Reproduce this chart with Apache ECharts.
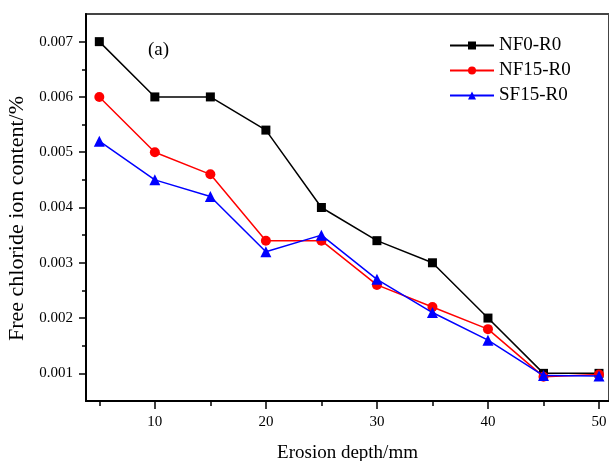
<!DOCTYPE html>
<html>
<head>
<meta charset="utf-8">
<script src="https://cdn.jsdelivr.net/npm/echarts@6/dist/echarts.min.js"></script>
<style>html,body{margin:0;padding:0;background:#fff;}#c{width:609px;height:461px;}</style>
</head>
<body>
<div id="c"></div>
<script>
var depths = [5, 10, 15, 20, 25, 30, 35, 40, 45, 50];
var nf0 = [0.007, 0.006, 0.006, 0.0054, 0.004, 0.0034, 0.003, 0.002, 0.001, 0.001];
var nf15 = [0.006, 0.005, 0.0046, 0.0034, 0.0034, 0.0026, 0.0022, 0.0018, 0.00094, 0.00098];
var sf15 = [0.0052, 0.0045, 0.0042, 0.0032, 0.0035, 0.0027, 0.0021, 0.0016, 0.00096, 0.00095];
var xMajor = [10, 20, 30, 40, 50];
var xMinor = [5, 15, 25, 35, 45];
var yMajor = [0.001, 0.002, 0.003, 0.004, 0.005, 0.006, 0.007];
var yMinor = [0.0015, 0.0025, 0.0035, 0.0045, 0.0055, 0.0065];

function pairs(v) { return depths.map(function (d, i) { return [d, v[i]]; }); }

var font = '"Liberation Serif", "Times New Roman", serif';
var chart = echarts.init(document.getElementById('c'));
var xBase = { type: 'value', min: 3.8, max: 50.9, position: 'bottom', splitLine: { show: false } };
var yBase = { type: 'value', min: 0.0005, max: 0.0075, position: 'left', splitLine: { show: false } };
chart.setOption({
  animation: false,
  backgroundColor: '#fff',
  grid: { left: 86, right: 0, top: 14, bottom: 60, show: true, borderColor: '#444', borderWidth: 2,
    containLabel: false, outerBoundsMode: 'none' },
  graphic: [{ type: 'text', left: 148, top: 41, style: { text: '(a)', font: '19px ' + font, fill: '#000' } }],
  legend: {
    orient: 'vertical', left: 444, top: 31, itemWidth: 44, itemHeight: 10, itemGap: 6,
    textStyle: { fontFamily: font, fontSize: 19, color: '#000' },
    data: ['NF0-R0', 'NF15-R0', 'SF15-R0']
  },
  xAxis: [
    Object.assign({}, xBase, {
      name: 'Erosion depth/mm', nameLocation: 'middle', nameGap: 43,
      nameTextStyle: { fontFamily: font, fontSize: 19, color: '#000' },
      axisLine: { show: true, onZero: false, lineStyle: { color: '#000', width: 2 } },
      axisTick: { show: true, length: 8, customValues: xMajor, lineStyle: { color: '#000', width: 1.5 } },
      axisLabel: { customValues: xMajor, fontFamily: font, fontSize: 15, color: '#000', margin: 14 }
    }),
    Object.assign({}, xBase, {
      axisLine: { show: false, onZero: false },
      axisTick: { show: true, length: 5, customValues: xMinor, lineStyle: { color: '#000', width: 1.5 } },
      axisLabel: { show: false }
    })
  ],
  yAxis: [
    Object.assign({}, yBase, {
      name: 'Free chloride ion content/%', nameLocation: 'middle', nameGap: 56,
      nameTextStyle: { fontFamily: font, fontSize: 22, color: '#000', padding: [0, 22, 0, 0] },
      axisLine: { show: true, onZero: false, lineStyle: { color: '#000', width: 2 } },
      axisTick: { show: true, length: 7, customValues: yMajor, lineStyle: { color: '#000', width: 1.5 } },
      axisLabel: { customValues: yMajor, fontFamily: font, fontSize: 15, color: '#000', margin: 13,
        formatter: function (v) { return v.toFixed(3); } }
    }),
    Object.assign({}, yBase, {
      axisLine: { show: false, onZero: false },
      axisTick: { show: true, length: 4, customValues: yMinor, lineStyle: { color: '#000', width: 1.5 } },
      axisLabel: { show: false }
    })
  ],
  series: [
    { name: 'NF0-R0', type: 'line', data: pairs(nf0), symbol: 'rect', symbolSize: 9,
      itemStyle: { color: '#000' }, lineStyle: { color: '#000', width: 1.5 }, z: 2 },
    { name: 'NF15-R0', type: 'line', data: pairs(nf15), symbol: 'circle', symbolSize: 10,
      itemStyle: { color: '#ff0000' }, lineStyle: { color: '#ff0000', width: 1.5 }, z: 3 },
    { name: 'SF15-R0', type: 'line', data: pairs(sf15), symbol: 'triangle', symbolSize: 11,
      itemStyle: { color: '#0000ff' }, lineStyle: { color: '#0000ff', width: 1.5 }, z: 4 }
  ]
});
</script>
</body>
</html>
